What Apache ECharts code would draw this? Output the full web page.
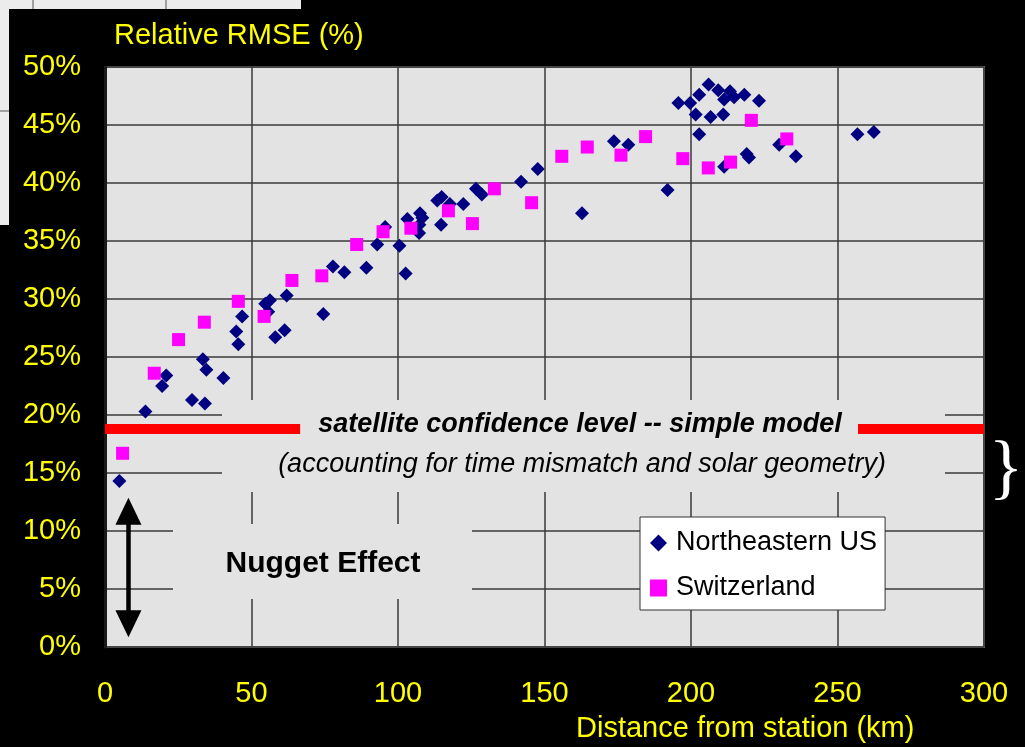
<!DOCTYPE html>
<html>
<head>
<meta charset="utf-8">
<title>Relative RMSE vs distance from station</title>
<script src="https://cdn.jsdelivr.net/npm/echarts@6/dist/echarts.min.js"></script>
<style>
  html, body { margin: 0; padding: 0; background: #000; }
  #chart { width: 1025px; height: 747px; }
</style>
</head>
<body>
<div id="chart"></div>
<script>
// distance (km) and relative RMSE (%)
const northeastDist = [
  4.9, 13.8, 19.5, 20.9, 29.7, 34.1, 33.4, 34.6, 40.4, 44.8, 45.5, 46.8,
  54.7, 56.3, 55.7, 58.1, 61.3, 62.0, 74.5, 77.8, 81.7, 89.2, 92.9, 95.6,
  100.5, 102.6, 103.2, 107.5, 108.3, 107.3, 107.2, 114.7, 113.4, 114.9, 117.7, 122.3,
  126.6, 128.6, 142.0, 147.7, 162.8, 173.7, 178.6, 192.0, 195.7, 199.7, 202.8, 206.0,
  209.3, 213.3, 211.3, 214.7, 218.2, 223.2, 201.6, 206.7, 211.0, 202.8, 211.3, 219.0,
  219.8, 230.1, 235.8, 256.8, 262.4
]
const northeastRmse = [
  14.3, 20.3, 22.5, 23.4, 21.3, 21.0, 24.8, 23.9, 23.2, 27.2, 26.1, 28.5,
  29.6, 29.9, 28.9, 26.7, 27.3, 30.3, 28.7, 32.8, 32.3, 32.7, 34.7, 36.2,
  34.6, 32.2, 36.9, 37.4, 37.0, 36.4, 35.7, 36.4, 38.5, 38.8, 38.2, 38.2,
  39.5, 39.0, 40.1, 41.2, 37.4, 43.6, 43.3, 39.4, 46.9, 46.9, 47.6, 48.5,
  48.0, 47.9, 47.2, 47.4, 47.6, 47.1, 45.9, 45.7, 45.9, 44.2, 41.4, 42.5,
  42.2, 43.3, 42.3, 44.2, 44.4
]
const swissDist = [
  6.0, 16.8, 25.1, 33.9, 45.5, 54.3, 63.8, 74.0, 85.9, 94.9, 104.4, 117.2,
  125.4, 132.9, 145.6, 155.9, 164.6, 176.1, 184.5, 197.2, 205.9, 213.5, 220.6, 232.7
]
const swissRmse = [
  16.7, 23.6, 26.5, 28.0, 29.8, 28.5, 31.6, 32.0, 34.7, 35.8, 36.1, 37.6,
  36.5, 39.5, 38.3, 42.3, 43.1, 42.4, 44.0, 42.1, 41.3, 41.8, 45.4, 43.8
]
const seriesNames = ['Northeastern US', 'Switzerland']
const satelliteLevel = 18.8
// red line is broken where the label sits (km)
const satelliteGap = [66.6, 257]
// nugget effect arrow, from distance / RMSE
const nuggetDist = 8.0
const nuggetRange = [11.7, 2.0]

const font = 'Liberation Sans, Arial, sans-serif'
const yellow = '#ffff00'

const chart = echarts.init(document.getElementById('chart'))

const option = {
  backgroundColor: '#000',
  animation: false,
  textStyle: { fontFamily: font },
  title: [
    {
      text: 'Relative RMSE (%)',
      left: 114,
      top: 21,
      padding: 0,
      textStyle: { color: yellow, fontSize: 29, fontWeight: 'normal', fontFamily: font }
    },
    {
      text: 'Distance from station (km)',
      left: 576,
      top: 714,
      padding: 0,
      textStyle: { color: yellow, fontSize: 29, fontWeight: 'normal', fontFamily: font }
    }
  ],
  grid: {
    left: 105,
    top: 67,
    width: 879,
    height: 580,
    show: true,
    backgroundColor: '#e3e3e3',
    borderColor: '#6a6a6a',
    borderWidth: 2
  },
  legend: {
    data: seriesNames,
    orient: 'vertical',
    left: 640,
    top: 517,
    padding: [11, 8, 7, 10],
    itemGap: 15,
    itemWidth: 17,
    itemHeight: 17,
    backgroundColor: '#fff',
    borderColor: '#333',
    borderWidth: 1,
    borderRadius: 0,
    textStyle: {
      color: '#000',
      fontSize: 27,
      lineHeight: 30,
      fontFamily: font,
      padding: [0, 0, 0, 4]
    }
  },
  xAxis: {
    type: 'value',
    min: 0,
    max: 300,
    interval: 50,
    axisLine: { show: false },
    axisTick: { show: false },
    axisLabel: { color: yellow, fontSize: 29, margin: 32, fontFamily: font },
    splitLine: { lineStyle: { color: '#3a3a3a', width: 1.5 } }
  },
  yAxis: {
    type: 'value',
    min: 0,
    max: 50,
    interval: 5,
    axisLine: { show: true, lineStyle: { color: '#1a1a1a', width: 3 } },
    axisTick: { show: false },
    axisLabel: {
      color: yellow,
      fontSize: 29,
      margin: 24,
      fontFamily: font,
      formatter: '{value}%'
    },
    splitLine: { lineStyle: { color: '#3a3a3a', width: 1.5 } }
  },
  series: [
    {
      name: seriesNames[0],
      type: 'scatter',
      symbol: 'diamond',
      symbolSize: 14,
      itemStyle: { color: '#000080', opacity: 1 },
      data: northeastDist.map((d, i) => [d, northeastRmse[i]]),
      markLine: {
        silent: true,
        symbol: 'none',
        label: { show: false },
        lineStyle: { color: '#ff0000', width: 10, type: 'solid', cap: 'butt' },
        data: [
          [{ coord: [0, satelliteLevel] }, { coord: [satelliteGap[0], satelliteLevel] }],
          [{ coord: [satelliteGap[1], satelliteLevel] }, { coord: [300, satelliteLevel] }]
        ]
      }
    },
    {
      name: seriesNames[1],
      type: 'scatter',
      symbol: 'rect',
      symbolSize: 13,
      itemStyle: { color: '#ff00ff', opacity: 1 },
      data: swissDist.map((d, i) => [d, swissRmse[i]]),
      markLine: {
        silent: true,
        symbol: ['triangle', 'triangle'],
        symbolSize: [26, 27],
        label: { show: false },
        lineStyle: { color: '#000', width: 4.5, type: 'solid' },
        data: [
          [{ coord: [nuggetDist, nuggetRange[0]] }, { coord: [nuggetDist, nuggetRange[1]] }]
        ]
      }
    }
  ],
  graphic: [
    // leftovers of the slide underneath, top left
    { type: 'rect', z: 0, shape: { x: 0, y: 0, width: 301, height: 9 }, style: { fill: '#ececec' } },
    { type: 'rect', z: 0, shape: { x: 0, y: 0, width: 9, height: 225 }, style: { fill: '#ececec' } },
    { type: 'line', z: 0, shape: { x1: 33, y1: 0, x2: 33, y2: 9 }, style: { stroke: '#555', lineWidth: 1 } },
    { type: 'line', z: 0, shape: { x1: 166, y1: 0, x2: 166, y2: 9 }, style: { stroke: '#555', lineWidth: 1 } },
    { type: 'line', z: 0, shape: { x1: 0, y1: 111, x2: 9, y2: 111 }, style: { stroke: '#555', lineWidth: 1 } },
    // boxes behind the annotations hide the grid lines
    { type: 'rect', z: 1, shape: { x: 222, y: 400, width: 723, height: 92 }, style: { fill: '#e3e3e3' } },
    { type: 'rect', z: 1, shape: { x: 173, y: 524, width: 299, height: 75 }, style: { fill: '#e3e3e3' } },
    {
      type: 'text',
      z: 5,
      style: {
        text: 'satellite confidence level -- simple model',
        x: 580,
        y: 425,
        align: 'center',
        verticalAlign: 'middle',
        fill: '#000',
        fontFamily: font,
        fontSize: 27,
        fontWeight: 'bold',
        fontStyle: 'italic'
      }
    },
    {
      type: 'text',
      z: 5,
      style: {
        text: '(accounting for time mismatch and solar geometry)',
        x: 582,
        y: 464,
        align: 'center',
        verticalAlign: 'middle',
        fill: '#000',
        fontFamily: font,
        fontSize: 27,
        fontStyle: 'italic'
      }
    },
    {
      type: 'text',
      z: 5,
      style: {
        text: 'Nugget Effect',
        x: 323,
        y: 564,
        align: 'center',
        verticalAlign: 'middle',
        fill: '#000',
        fontFamily: font,
        fontSize: 30,
        fontWeight: 'bold'
      }
    },
    {
      type: 'text',
      z: 5,
      style: {
        text: '}',
        x: 1006,
        y: 471,
        align: 'center',
        verticalAlign: 'middle',
        fill: '#fff',
        fontFamily: 'Liberation Serif, serif',
        fontSize: 72
      }
    }
  ]
}

chart.setOption(option)
</script>
</body>
</html>
